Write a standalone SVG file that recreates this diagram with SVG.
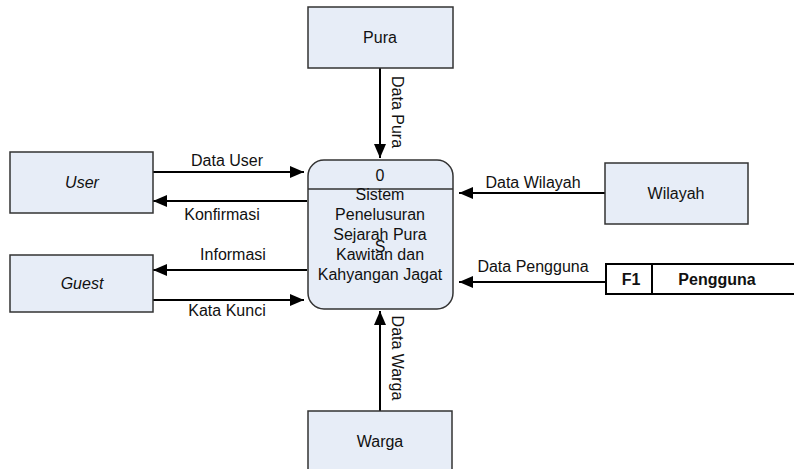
<svg xmlns="http://www.w3.org/2000/svg" width="794" height="469" viewBox="0 0 794 469">
<style>
.box{fill:#E7EDF7;stroke:#333;stroke-width:1.5}
.t{font-family:"Liberation Sans",Arial,sans-serif;font-size:16px;fill:#111;text-anchor:middle}
.it{font-style:italic}
.b{font-weight:bold}
.c{stroke:#000;stroke-width:2;fill:none}
.st{stroke:#000;stroke-width:2;fill:#fff}
</style>
<defs>
<marker id="ah2" viewBox="0 0 14 12" refX="14" refY="6" markerWidth="14" markerHeight="12" markerUnits="userSpaceOnUse" orient="auto"><path d="M0,0 L14,6 L0,12 z" fill="#000"/></marker>
</defs>
<g id="connectors">
<line class="c" x1="380" y1="68" x2="380" y2="158" marker-end="url(#ah2)"/>
<text class="t" transform="translate(392,112) rotate(90)">Data Pura</text>
<line class="c" x1="153" y1="172" x2="304" y2="172" marker-end="url(#ah2)"/>
<text class="t" x="227" y="166">Data User</text>
<line class="c" x1="307" y1="201" x2="153" y2="201" marker-end="url(#ah2)"/>
<text class="t" x="222" y="220">Konfirmasi</text>
<line class="c" x1="307" y1="270" x2="153" y2="270" marker-end="url(#ah2)"/>
<text class="t" x="233" y="260">Informasi</text>
<line class="c" x1="153" y1="300" x2="304" y2="300" marker-end="url(#ah2)"/>
<text class="t" x="227" y="316">Kata Kunci</text>
<line class="c" x1="605" y1="193" x2="459" y2="193" marker-end="url(#ah2)"/>
<text class="t" x="533" y="188">Data Wilayah</text>
<line class="c" x1="606" y1="282" x2="459" y2="282" marker-end="url(#ah2)"/>
<text class="t" x="533" y="272">Data Pengguna</text>
<line class="c" x1="380" y1="411" x2="380" y2="311" marker-end="url(#ah2)"/>
<text class="t" transform="translate(392,358) rotate(90)">Data Warga</text>
</g>
<g id="pura"><rect class="box" x="308" y="7" width="145" height="61"/><text class="t" x="380" y="43">Pura</text></g>
<g id="user"><rect class="box" x="10" y="152" width="143" height="61"/><text class="t it" x="82" y="188">User</text></g>
<g id="guest"><rect class="box" x="10" y="255" width="143" height="57"/><text class="t it" x="82" y="289">Guest</text></g>
<g id="wilayah"><rect class="box" x="605" y="163" width="143" height="61"/><text class="t" x="676" y="199">Wilayah</text></g>
<g id="warga"><rect class="box" x="308" y="411" width="144" height="70"/><text class="t" x="380" y="447">Warga</text></g>
<g id="pengguna">
<path d="M794,264 L606,264 L606,294 L794,294" class="st"/>
<line x1="652" y1="264" x2="652" y2="294" stroke="#000" stroke-width="2"/>
<text class="t b" x="631" y="285">F1</text>
<text class="t b" x="717" y="285">Pengguna</text>
</g>
<g id="process">
<rect class="box" x="308" y="160" width="145" height="149" rx="16"/>
<line x1="308" y1="189" x2="453" y2="189" stroke="#333" stroke-width="1.5"/>
<text class="t" x="380" y="181">0</text>
<text class="t" x="380" y="200">Sistem</text>
<text class="t" x="380" y="220">Penelusuran</text>
<text class="t" x="380" y="240">Sejarah Pura</text>
<text class="t" x="380" y="252">S</text>
<text class="t" x="380" y="260">Kawitan dan</text>
<text class="t" x="380" y="280">Kahyangan Jagat</text>
</g>
</svg>
